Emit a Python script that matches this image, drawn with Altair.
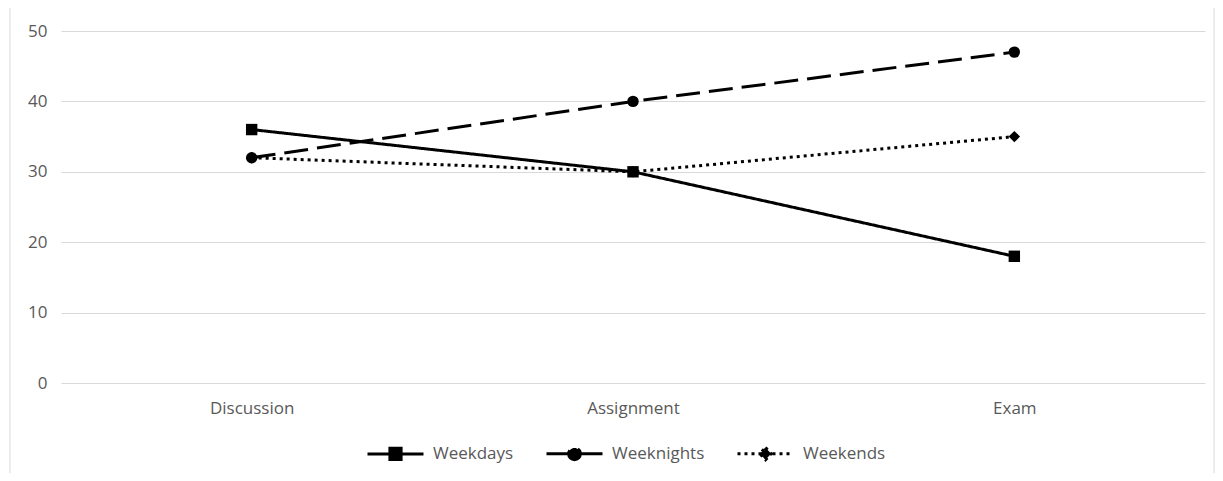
import altair as alt
import pandas as pd

categories = ["Discussion", "Assignment", "Exam"]
series = ["Weekdays", "Weeknights", "Weekends"]
weekdays = [36, 30, 18]
weeknights = [32, 40, 47]
weekends = [32, 30, 35]
markers = ["square", "circle", "diamond"]

rows = []
for name, vals in zip(series, [weekdays, weeknights, weekends]):
    for c, v in zip(categories, vals):
        rows.append({"category": c, "series": name, "value": v})
df = pd.DataFrame(rows)

FONT = "Open Sans"
GRAY = "#595959"
FS = 17

sym_expr = (
    "datum.value == 'Weekdays' ? 'M-1,0H1M-0.2,-0.2H0.2V0.2H-0.2Z' : "
    "datum.value == 'Weeknights' ? 'M-1,0H1M-0.21,0A0.21,0.21 0 1,0 0.21,0A0.21,0.21 0 1,0 -0.21,0Z' : "
    "'M-1,0H1M0,-0.22L0.2,0L0,0.22L-0.2,0Z'"
)

x = alt.X(
    "category:N",
    sort=categories,
    scale=alt.Scale(type="point", padding=0.5),
    axis=alt.Axis(
        title=None, labelAngle=0, domain=False, ticks=False, grid=False,
        labelFont=FONT, labelFontSize=FS, labelColor=GRAY, labelPadding=17,
    ),
)
y = alt.Y(
    "value:Q",
    scale=alt.Scale(domain=[0, 50], nice=False),
    axis=alt.Axis(
        title=None, values=[0, 10, 20, 30, 40, 50], domain=False, ticks=False,
        gridColor="#d9d9d9", gridWidth=1, labelFont=FONT, labelFontSize=FS,
        labelColor=GRAY, labelPadding=14,
    ),
)

base = alt.Chart(df)

lines = base.mark_line(color="black", strokeWidth=3).encode(
    x=x,
    y=y,
    strokeDash=alt.StrokeDash(
        "series:N",
        scale=alt.Scale(domain=series, range=[[1, 0], [24, 9], [3, 4]]),
        legend=alt.Legend(
            title=None,
            orient="none",
            direction="horizontal",
            legendX=305,
            legendY=393,
            symbolType=alt.ExprRef(sym_expr),
            symbolSize=3136,
            symbolStrokeWidth=3,
            symbolStrokeColor="black",
            symbolFillColor="black",
            labelFont=FONT,
            labelFontSize=FS,
            labelColor=GRAY,
            labelOffset=8,
            columnPadding=26,
        ),
    ),
)

point_layers = []
for name, shp in zip(series, markers):
    point_layers.append(
        base.transform_filter(alt.datum.series == name)
        .mark_point(filled=True, color="black", opacity=1, size=130, shape=shp)
        .encode(x=x, y=y)
    )

border = alt.Chart(pd.DataFrame({"a": [0]})).mark_rect(
    fill=None, stroke="#d9d9d9", strokeWidth=1
).encode(
    x=alt.value(-51), x2=alt.value(1153), y=alt.value(-24), y2=alt.value(470)
)

chart = alt.layer(border, lines, *point_layers).properties(
    width=1144,
    height=352,
    padding={"left": 53, "top": 23, "right": 10, "bottom": 90},
    autosize=alt.AutoSizeParams(type="none"),
).configure_view(stroke=None)

chart.save("out.html", embed_options={"renderer": "svg", "actions": False})
